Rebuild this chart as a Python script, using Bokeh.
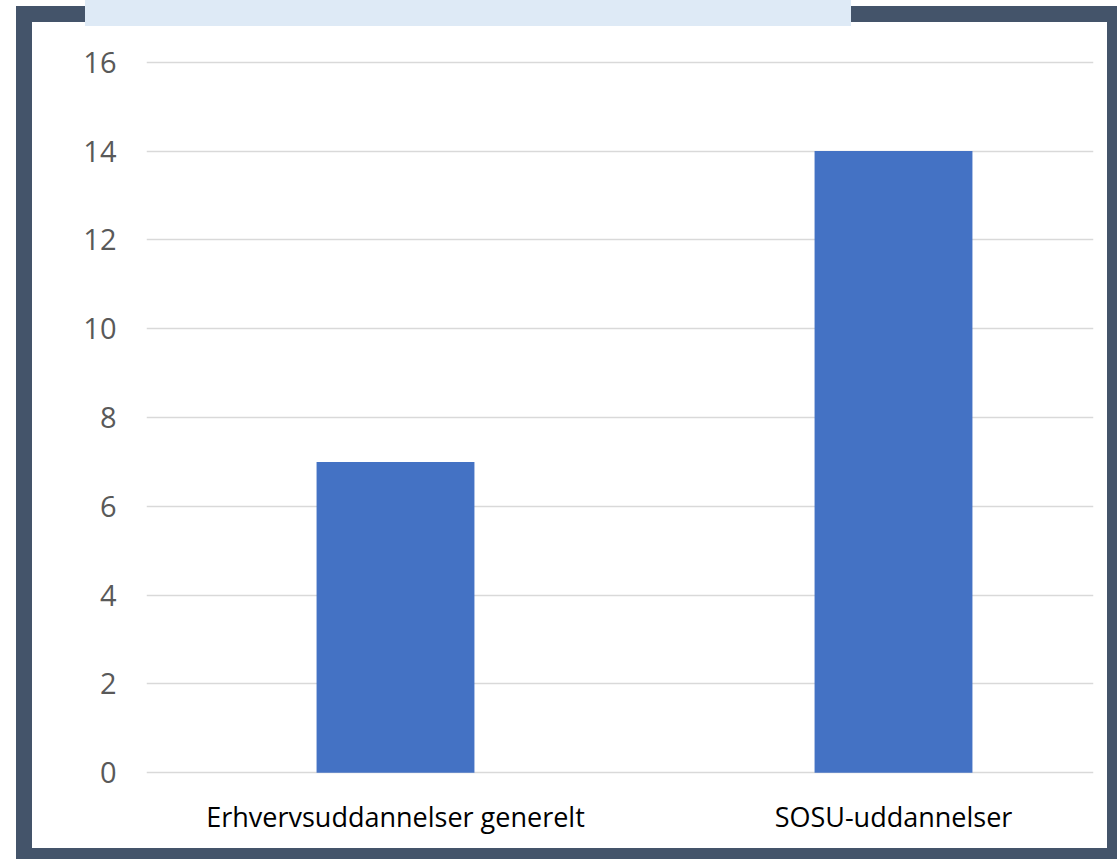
from bokeh.plotting import figure
from bokeh.models import Range1d, FixedTicker, ColumnDataSource
from bokeh.embed import file_html
from bokeh.resources import INLINE

# ---- data ----
categories = ["Erhvervsuddannelser generelt", "SOSU-uddannelser"]
values = [7, 14]
y_ticks = [0, 2, 4, 6, 8, 10, 12, 14, 16]

x_pos = list(range(len(categories)))
src = ColumnDataSource(dict(x=x_pos, value=values, cat=categories))

FRAME_DARK = "#44546A"
BAR = "#4472C4"
BOX_BLUE = "#DEEAF6"

W, H = 1117, 859
p = figure(
    frame_width=947, frame_height=714,
    min_border_left=146, min_border_right=24,
    min_border_top=60, min_border_bottom=85,
    x_range=Range1d(-0.5, 1.4016), y_range=Range1d(-0.04, 16.04),
    output_backend="svg", toolbar_location=None,
    border_fill_color="white", border_fill_alpha=0.0,
    background_fill_color="white",
    outline_line_color=None,
)

# page decoration: dark frame, white inner panel, light-blue title box
p.styles = {
    "background": (
        f"linear-gradient({BOX_BLUE},{BOX_BLUE}) 85px 0px / 766px 26px no-repeat, "
        "linear-gradient(#ffffff,#ffffff) 32px 22px / 1075px 826px no-repeat, "
        f"linear-gradient({FRAME_DARK},{FRAME_DARK}) 16px 6px / 1101px 853px no-repeat, "
        "#ffffff"
    )
}

p.vbar(x="x", top="value", width=0.317, source=src,
       fill_color=BAR, line_color=None)

# grid
p.xgrid.visible = False
p.ygrid.ticker = FixedTicker(ticks=y_ticks)
p.ygrid.grid_line_color = "#D9D9D9"
p.ygrid.grid_line_width = 1.5

# y axis
p.yaxis.ticker = FixedTicker(ticks=y_ticks)
p.yaxis.axis_line_color = None
p.yaxis.major_tick_line_color = None
p.yaxis.minor_tick_line_color = None
p.yaxis.major_tick_in = 0
p.yaxis.major_tick_out = 0
p.yaxis.major_label_text_font = "Open Sans"
p.yaxis.major_label_text_font_size = "29px"
p.yaxis.major_label_text_color = "#595959"
p.yaxis.major_label_standoff = 30

# x axis
p.xaxis.ticker = FixedTicker(ticks=x_pos)
p.xaxis.major_label_overrides = {i: c for i, c in zip(x_pos, categories)}
p.xaxis.axis_line_color = None
p.xaxis.major_tick_line_color = None
p.xaxis.minor_tick_line_color = None
p.xaxis.major_tick_in = 0
p.xaxis.major_tick_out = 0
p.xaxis.major_label_text_font = "Open Sans"
p.xaxis.major_label_text_font_size = "27px"
p.xaxis.major_label_text_color = "#000000"
p.xaxis.major_label_standoff = 23

open("out.html", "w").write(file_html(p, INLINE))
